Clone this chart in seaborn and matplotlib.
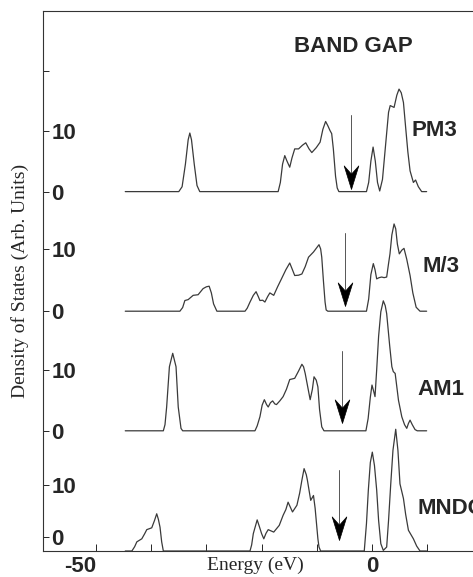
import numpy as np
import pandas as pd
import matplotlib
matplotlib.use("Agg")
import matplotlib.pyplot as plt
from matplotlib.path import Path
from matplotlib.ticker import MultipleLocator
import seaborn as sns

# density of states: (energy eV, DOS)
pm3 = [(-44.7, 0), (-35.0, 0), (-34.4, 0.8), (-33.8, 4.5), (-33.3, 8.5), (-33.0, 9.6),
       (-32.7, 8.5), (-32.2, 4.5), (-31.7, 1.0), (-31.2, 0), (-17.0, 0), (-16.6, 1.5),
       (-16.2, 4.5), (-15.8, 5.9), (-15.4, 5.0), (-14.9, 4.0), (-14.5, 5.5), (-14.0, 7.0),
       (-13.3, 7.0), (-12.6, 7.6), (-12.0, 8.0), (-11.4, 7.0), (-10.9, 6.4), (-10.1, 7.2),
       (-9.4, 8.1), (-8.9, 10.2), (-8.4, 11.5), (-8.0, 10.8), (-7.6, 10.0), (-7.3, 9.5),
       (-7.0, 7.0), (-6.6, 2.5), (-6.3, 0.6), (-6.0, 0), (-1.0, 0), (-0.6, 1.5), (-0.2, 5.0),
       (0.2, 7.3), (0.6, 5.0), (1.0, 1.5), (1.4, 0.1), (1.9, 2.0), (2.3, 6.0), (2.7, 10.0),
       (3.0, 13.0), (3.3, 14.1), (4.0, 13.8), (4.5, 15.8), (4.9, 16.8), (5.3, 16.2),
       (5.7, 14.6), (6.1, 10.5), (6.5, 6.5), (6.9, 3.4), (7.5, 1.5), (7.9, 1.9), (8.4, 0.8),
       (9.0, 0), (9.9, 0)]

m3 = [(-44.7, 0), (-34.8, 0), (-34.3, 0.6), (-33.9, 1.75), (-33.3, 1.9), (-32.4, 2.6),
      (-31.5, 2.7), (-30.6, 3.7), (-30.0, 4.0), (-29.5, 4.1), (-29.1, 3.0), (-28.7, 1.2),
      (-28.1, 0), (-23.0, 0), (-22.6, 0.5), (-22.1, 1.5), (-21.5, 2.6), (-21.0, 3.2),
      (-20.6, 2.4), (-20.3, 1.75), (-19.8, 1.8), (-19.4, 1.5), (-18.9, 2.4), (-18.5, 3.0),
      (-17.8, 2.6), (-17.1, 4.0), (-16.4, 5.3), (-15.6, 6.8), (-14.9, 7.9), (-14.5, 7.0),
      (-14.0, 5.85), (-13.3, 5.9), (-12.7, 6.1), (-12.1, 7.3), (-11.5, 8.85), (-10.6, 9.7),
      (-10.1, 10.3), (-9.6, 10.9), (-9.3, 10.2), (-9.1, 8.85), (-8.8, 5.0), (-8.5, 1.5),
      (-8.3, 0.2), (-8.0, 0), (-1.0, 0), (-0.6, 2.0), (-0.2, 6.0), (0.24, 7.8), (0.55, 6.8),
      (0.85, 5.3), (1.3, 5.5), (1.75, 5.6), (2.2, 5.5), (2.66, 5.6), (3.0, 7.8), (3.26, 9.4),
      (3.6, 12.5), (4.0, 14.3), (4.3, 13.5), (4.6, 11.0), (4.95, 9.4), (5.4, 10.0),
      (5.8, 10.3), (6.3, 8.5), (6.9, 5.85), (7.4, 3.0), (8.0, 0.65), (8.7, 0), (9.9, 0)]

am1 = [(-44.7, 0), (-37.8, 0), (-37.5, 1.0), (-37.2, 3.9), (-36.7, 10.5), (-36.1, 12.7),
       (-35.5, 10.5), (-35.1, 3.9), (-34.6, 0.4), (-34.3, 0), (-21.2, 0), (-20.8, 0.8),
       (-20.3, 2.3), (-19.9, 4.2), (-19.5, 5.1), (-19.1, 4.3), (-18.8, 3.9), (-18.4, 4.6),
       (-18.0, 4.9), (-17.6, 4.4), (-17.3, 4.3), (-16.7, 4.9), (-16.1, 5.6), (-15.5, 6.8),
       (-14.9, 8.4), (-14.0, 8.6), (-13.3, 9.8), (-12.7, 10.9), (-12.4, 10.5), (-12.1, 9.4),
       (-11.6, 7.0), (-11.2, 5.1), (-10.8, 6.8), (-10.5, 8.85), (-10.1, 8.3), (-9.8, 7.2),
       (-9.5, 3.5), (-9.1, 0.65), (-8.7, 0), (-1.1, 0), (-0.7, 2.0), (-0.3, 5.5), (0.0, 7.5),
       (0.3, 6.5), (0.55, 5.6), (0.85, 10.0), (1.2, 15.5), (1.6, 19.5), (2.05, 21.3),
       (2.4, 20.5), (2.66, 19.2), (3.2, 14.0), (3.6, 10.5), (3.86, 9.7), (4.2, 9.4),
       (4.8, 5.0), (5.4, 2.3), (5.9, 1.0), (6.3, 0.4), (6.6, 1.2), (6.9, 1.75), (7.3, 1.0),
       (7.8, 0.2), (8.2, 0), (9.9, 0)]

mndo = [(-44.7, 0), (-43.5, 0), (-43.0, 0.7), (-42.6, 1.5), (-41.7, 2.0), (-41.2, 2.8),
        (-40.8, 3.5), (-39.9, 3.8), (-39.4, 5.0), (-39.0, 6.1), (-38.7, 5.2), (-38.4, 3.9),
        (-38.1, 1.5), (-37.8, 0), (-22.1, 0), (-21.8, 1.0), (-21.5, 2.85), (-20.8, 5.1),
        (-20.4, 4.0), (-20.0, 2.85), (-19.6, 2.0), (-19.2, 2.9), (-18.8, 3.5), (-17.8, 3.1),
        (-16.8, 4.2), (-16.1, 5.85), (-15.6, 6.8), (-15.2, 8.0), (-14.8, 7.2), (-14.4, 6.4),
        (-13.6, 7.5), (-13.1, 9.5), (-12.7, 11.6), (-12.3, 13.5), (-11.9, 12.5), (-11.7, 11.6),
        (-11.1, 8.3), (-10.6, 9.1), (-10.3, 7.0), (-10.1, 5.0), (-9.8, 2.0), (-9.6, 0.65),
        (-9.3, 0), (-1.4, 0), (-1.0, 4.5), (-0.66, 10.0), (-0.3, 14.5), (0.06, 16.2),
        (0.45, 14.0), (0.85, 10.0), (1.2, 5.0), (1.6, 1.2), (2.05, 0.1), (2.66, 0.65),
        (3.0, 5.0), (3.4, 11.0), (3.8, 16.5), (4.3, 19.95), (4.7, 16.5), (5.07, 11.0),
        (5.7, 8.6), (6.1, 6.0), (6.6, 3.4), (7.5, 2.0), (8.1, 0.8), (8.7, 0), (9.9, 0)]

methods = ["PM3", "M/3", "AM1", "MNDO"]
curves = [pm3, m3, am1, mndo]
offsets = [58.9, 39.3, 19.7, 0.0]

# band gap arrows: energy, top and tip heights above each baseline
gap_energy = [-3.8, -4.8, -5.5, -6.0]
gap_top = [12.5, 12.8, 13.0, 13.3]
gap_tip = [0.5, 0.9, 1.2, 1.75]

ytick_pos = [2.3, 10.8, 19.7, 29.7, 39.3, 49.5, 58.9, 68.8, 78.7]
ytick_labels = ["0", "10", "0", "10", "0", "10", "0", "10", ""]

sns.set_theme(style="white")
plt.rcParams["font.family"] = ["Liberation Sans", "DejaVu Sans"]

rows = []
for name, pts, off in zip(methods, curves, offsets):
    for e, d in pts:
        rows.append({"method": name, "energy": e, "dos": d + off})
df = pd.DataFrame(rows)

fig = plt.figure(figsize=(4.73, 5.77), dpi=100)
ax = fig.add_axes([43 / 473, 26 / 577, 430 / 473, 540 / 577])

for name in methods:
    sns.lineplot(data=df[df["method"] == name], x="energy", y="dos", ax=ax,
                 color="#3a3a3a", linewidth=0.9, estimator=None, sort=False)

# arrow heads with a notched back
head = Path([(0, 0), (-0.31, 1), (0, 0.65), (0.31, 1), (0, 0)],
            [Path.MOVETO, Path.LINETO, Path.LINETO, Path.LINETO, Path.CLOSEPOLY])
for e, top, tip, off in zip(gap_energy, gap_top, gap_tip, offsets):
    ax.plot([e, e], [off + top, off + tip + 2], color="#555555", linewidth=0.7)
    ax.plot([e], [off + tip], marker=head, markersize=34, color="black",
            markeredgewidth=0.5, linestyle="none")

sans = dict(family=["Liberation Sans", "DejaVu Sans"], weight="bold", fontsize=16)
ax.text(-3.4, 82.6, "BAND GAP", ha="center", va="center", **sans)
label_pos = [(7.2, 68.9), (9.2, 46.7), (8.3, 26.4), (8.3, 7.0)]
for name, (x, y) in zip(methods, label_pos):
    ax.text(x, y, name, ha="left", va="center", clip_on=False, **sans)

ax.set_xlim(-59.6, 18.3)
ax.set_ylim(0, 88.5)
ax.set_xticks([-50, 0], ["-50", "0"])
ax.xaxis.set_minor_locator(MultipleLocator(10))
ax.set_yticks(ytick_pos, ytick_labels)
ax.tick_params(axis="x", which="both", direction="in", length=5, width=0.7,
               pad=3.5, bottom=True, labelsize=16)
ax.tick_params(axis="y", direction="in", length=4, width=0.7, pad=-6, left=True,
               labelsize=16)
for lbl in ax.get_xticklabels() + ax.get_yticklabels():
    lbl.set_fontweight("bold")
for lbl in ax.get_yticklabels():
    lbl.set_ha("left")
ax.get_xticklabels()[0].set_ha("right")

serif = dict(family=["Liberation Serif", "DejaVu Serif"], fontsize=14)
ax.set_xlabel("Energy (eV)", **serif)
ax.set_ylabel("Density of States (Arb. Units)", **serif)
ax.xaxis.set_label_coords((255 - 43) / 430, (551 - 557) / 540)
ax.yaxis.set_label_coords((29 - 43) / 430, 0.5)

ax.spines["right"].set_visible(False)
for s in ["left", "bottom", "top"]:
    ax.spines[s].set_color("#333333")
    ax.spines[s].set_linewidth(0.8)

fig.savefig("out.png", dpi=100)
